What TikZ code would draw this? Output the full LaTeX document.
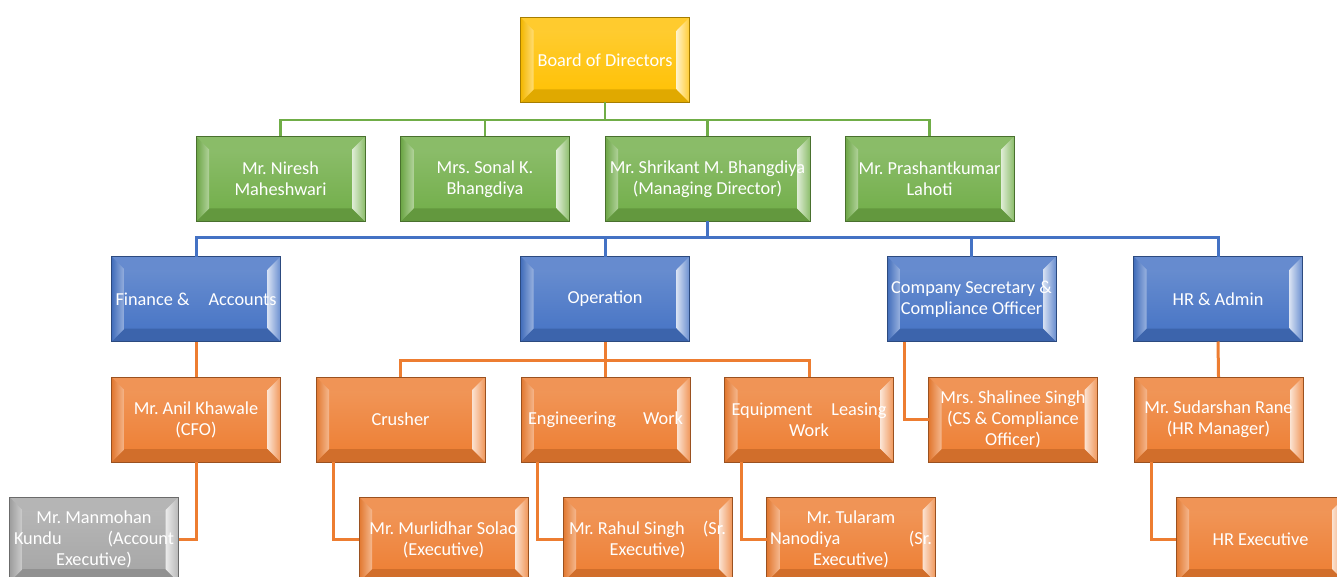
\documentclass[tikz,border=0pt]{standalone}
\usepackage{fontspec}
\setmainfont{Carlito}
\usetikzlibrary{calc}
\definecolor{cgold}{HTML}{FFC000}
\definecolor{cgreen}{HTML}{70AD47}
\definecolor{cblue}{HTML}{4472C4}
\definecolor{corange}{HTML}{ED7D31}
\definecolor{cgrey}{HTML}{A5A5A5}
\frenchspacing
\begin{document}
\begin{tikzpicture}[x=1pt,y=-1pt,
  bevbox/.style={rectangle, minimum width=169pt, minimum height=85pt, inner sep=0pt, outer sep=0pt,
    fill=#1, draw=#1!65!black, line width=0.7pt, text=white, align=center,
    font=\fontsize{18.3}{21}\selectfont,
    path picture={
      \path (path picture bounding box.north west) coordinate (pnw)
            (path picture bounding box.south east) coordinate (pse);
      \path (pnw) ++(13,13) coordinate (inw);
      \path (pse) ++(-13,-13) coordinate (ise);
      \shade[top color=#1!78!white, bottom color=#1] (pnw) rectangle (pse);
      \fill[#1!82!white] (pnw) -- (pse|-pnw) -- (ise|-inw) -- (inw) -- cycle;
      \fill[#1!88!black] (pnw|-pse) -- (pse) -- (ise) -- (inw|-ise) -- cycle;
      \shade[left color=#1!95!black, right color=#1!55!white] (pnw) -- (inw) -- (inw|-ise) -- (pnw|-pse) -- cycle;
      \shade[left color=#1!22!white, right color=#1!80!white] (pse|-pnw) -- (ise|-inw) -- (ise) -- (pse) -- cycle;
    }},
  gline/.style={draw=cgreen, line width=2.5pt},
  bline/.style={draw=cblue, line width=3pt},
  oline/.style={draw=corange, line width=3pt}
]
\useasboundingbox (0,0) rectangle (1337,577);
\fill[white] (0,0) rectangle (1337,577);
\clip (0,0) rectangle (1337,577);

% level 1
\node[bevbox=cgold] (board) at (605,60) {Board of Directors};
% level 2
\node[bevbox=cgreen] (niresh) at (280.5,179) {Mr. Niresh\\Maheshwari};
\node[bevbox=cgreen] (sonal) at (485,179) {Mrs. Sonal K.\\Bhangdiya};
\node[bevbox=cgreen, minimum width=205pt] (shrikant) at (707.5,179) {Mr. Shrikant M. Bhangdiya\\(Managing Director)};
\node[bevbox=cgreen] (prashant) at (929.5,179) {Mr. Prashantkumar\\Lahoti};
% level 3
\node[bevbox=cblue] (finance) at (196,299) {\makebox[161pt]{Finance \&\hfill Accounts}};
\node[bevbox=cblue] (operation) at (605,299) {Operation};
\node[bevbox=cblue] (compsec) at (971.5,299) {Company Secretary \&\\Compliance Officer};
\node[bevbox=cblue] (hr) at (1218,299) {HR \& Admin};
% level 4
\node[bevbox=corange] (anil) at (196,419.5) {Mr. Anil Khawale\\(CFO)};
\node[bevbox=corange] (crusher) at (400.5,419.5) {Crusher};
\node[bevbox=corange] (engg) at (605.5,419.5) {\makebox[155pt]{Engineering\hfill Work}};
\node[bevbox=corange] (equip) at (809,419.5) {\makebox[155pt]{Equipment\hfill Leasing}\\Work};
\node[bevbox=corange] (shalinee) at (1013,419.5) {Mrs. Shalinee Singh\\(CS \& Compliance\\Officer)};
\node[bevbox=corange] (sudarshan) at (1218.5,419.5) {Mr. Sudarshan Rane\\(HR Manager)};
% level 5
\node[bevbox=cgrey] (manmohan) at (94,539.5) {Mr. Manmohan\\\makebox[160pt]{Kundu\hfill(Account}\\Executive)};
\node[bevbox=corange] (murlidhar) at (443.5,539.5) {Mr. Murlidhar Solao\\(Executive)};
\node[bevbox=corange] (rahul) at (647.5,539.5) {\makebox[157pt]{Mr. Rahul Singh\hfill(Sr.}\\Executive)};
\node[bevbox=corange] (tularam) at (851,539.5) {Mr. Tularam\\\makebox[162pt]{Nanodiya\hfill(Sr.}\\Executive)};
\node[bevbox=corange] (hrexec) at (1260.5,539.5) {HR Executive};

% connectors level 1-2
\coordinate (g) at (605,120);
\draw[gline] (board.south) -- (g);
\draw[gline] (g) -| (niresh.north);
\draw[gline] (g) -| (sonal.north);
\draw[gline] (g) -| (shrikant.north);
\draw[gline] (g) -| (prashant.north);
% level 2-3
\coordinate (b) at (707.5,238);
\draw[bline] (shrikant.south) -- (b);
\draw[bline] (b) -| (finance.north);
\draw[bline] (b) -| (operation.north);
\draw[bline] (b) -| (compsec.north);
\draw[bline] (b) -| (hr.north);
% level 3-4
\draw[oline] (finance.south) -- (anil.north);
\coordinate (o) at (605,360);
\draw[oline] (operation.south) -- (o);
\draw[oline] (o) -| (crusher.north);
\draw[oline] (o) -| (engg.north);
\draw[oline] (o) -| (equip.north);
\draw[oline] ($(compsec.south west)+(17,0)$) |- (shalinee.west);
\draw[oline] (hr.south) -- (sudarshan.north);
% level 4-5
\draw[oline] (anil.south) |- (manmohan.east);
\draw[oline] ($(crusher.south west)+(17,0)$) |- (murlidhar.west);
\draw[oline] ($(engg.south west)+(16,0)$) |- (rahul.west);
\draw[oline] ($(equip.south west)+(17,0)$) |- (tularam.west);
\draw[oline] ($(sudarshan.south west)+(17,0)$) |- (hrexec.west);
\end{tikzpicture}
\end{document}
